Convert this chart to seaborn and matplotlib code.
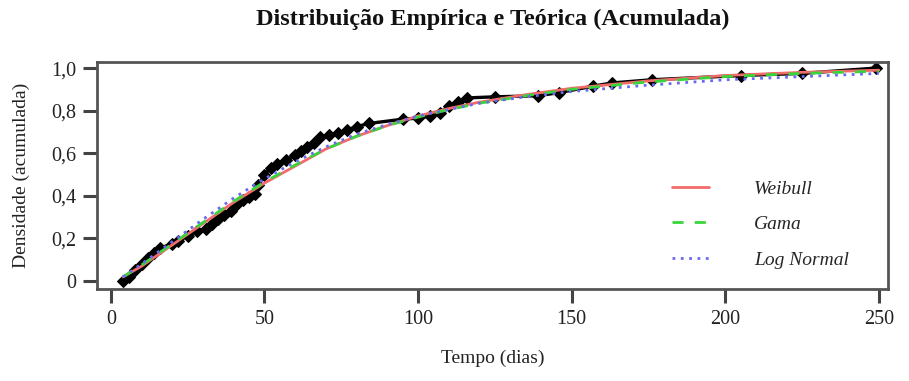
import matplotlib
matplotlib.use("Agg")
import matplotlib.pyplot as plt
import seaborn as sns
import pandas as pd

# Empirical cumulative distribution (days, cumulative share)
emp_days = [4, 6, 8, 10, 12, 14, 16, 20, 22, 25, 28, 31, 33, 35, 37, 39, 41, 43, 45, 47,
            48, 50, 52, 54, 57, 60, 62, 64, 66, 68, 71, 74, 77, 80, 84, 95, 100, 104, 107,
            110, 113, 116, 125, 139, 146, 157, 163, 176, 205, 225, 249]
emp_cdf = [0.00, 0.02, 0.05, 0.08, 0.11, 0.13, 0.155, 0.175, 0.19, 0.21, 0.235, 0.245, 0.27,
           0.29, 0.31, 0.33, 0.36, 0.38, 0.395, 0.41, 0.45, 0.50, 0.53, 0.55, 0.57, 0.59, 0.61,
           0.63, 0.65, 0.675, 0.685, 0.695, 0.71, 0.725, 0.74, 0.76, 0.765, 0.775, 0.79, 0.82,
           0.84, 0.86, 0.865, 0.87, 0.885, 0.915, 0.93, 0.945, 0.965, 0.975, 1.0]

# Fitted theoretical distributions
fit_days = [4, 10, 20, 30, 40, 50, 60, 70, 80, 90, 100, 110, 120, 135, 150, 175, 200, 225, 250]
weibull = [0.02, 0.07, 0.17, 0.27, 0.37, 0.46, 0.54, 0.62, 0.68, 0.73, 0.775, 0.81, 0.84,
           0.875, 0.905, 0.94, 0.965, 0.98, 0.99]
gama = [0.02, 0.075, 0.175, 0.275, 0.375, 0.465, 0.545, 0.62, 0.68, 0.73, 0.77, 0.805, 0.835,
        0.87, 0.90, 0.935, 0.96, 0.975, 0.985]
lognormal = [0.02, 0.08, 0.185, 0.29, 0.39, 0.48, 0.56, 0.63, 0.69, 0.735, 0.775, 0.805,
             0.835, 0.865, 0.89, 0.92, 0.945, 0.96, 0.975]

x_ticks = [0, 50, 100, 150, 200, 250]
y_ticks = [0, 0.2, 0.4, 0.6, 0.8, 1.0]
y_labels = ["0", "0,2", "0,4", "0,6", "0,8", "1,0"]

sns.set_style("white")
plt.rcParams["font.family"] = ["Liberation Serif", "DejaVu Serif"]

fig = plt.figure(figsize=(9.09, 3.81), dpi=100)
ax = fig.add_axes([0.1067, 0.2415, 0.8703, 0.5955])

emp = pd.DataFrame({"dias": emp_days, "F": emp_cdf})
sns.lineplot(data=emp, x="dias", y="F", ax=ax, color="black", lw=2.4, marker="D",
             markersize=6.5, markeredgecolor="black", zorder=2, legend=False)

fits = pd.DataFrame({"dias": fit_days, "Weibull": weibull, "Gama": gama,
                     "Log Normal": lognormal})
h_w = sns.lineplot(data=fits, x="dias", y="Weibull", ax=ax, color="#f26b6b", lw=2,
                   zorder=3).lines[-1]
h_g = sns.lineplot(data=fits, x="dias", y="Gama", ax=ax, color="#3ad53a", lw=2,
                   zorder=3).lines[-1]
h_g.set_linestyle((0, (4, 4)))
h_l = sns.lineplot(data=fits, x="dias", y="Log Normal", ax=ax, color="#6a6af0", lw=2,
                   zorder=3).lines[-1]
h_l.set_linestyle((0, (1, 2)))

ax.set_xlim(-4.5, 253)
ax.set_ylim(-0.037, 1.028)
ax.set_xticks(x_ticks)
ax.set_xticklabels([str(t) for t in x_ticks])
ax.set_yticks(y_ticks)
ax.set_yticklabels(y_labels)
ax.tick_params(axis="both", which="major", bottom=True, left=True, direction="out",
               length=10, width=2.2, color="#444444", labelsize=14.5,
               labelcolor="#222222", pad=5)
for s in ax.spines.values():
    s.set_color("#555555")
    s.set_linewidth(2)

ax.set_xlabel("Tempo (dias)", fontsize=14, labelpad=15, color="#222222")
ax.set_ylabel("Densidade (acumulada)", fontsize=14, labelpad=15, color="#222222")
ax.set_title("Distribuição Empírica e Teórica (Acumulada)", fontsize=17.5,
             fontweight="bold", pad=27, color="#111111")

leg = ax.legend([h_w, h_g, h_l], ["Weibull", "Gama", "Log Normal"],
                loc="center left", bbox_to_anchor=(0.705, 0.285), frameon=False,
                handlelength=1.9, handletextpad=2.3, labelspacing=0.92,
                prop={"style": "italic", "size": 14})

fig.savefig("out.png", dpi=100)
